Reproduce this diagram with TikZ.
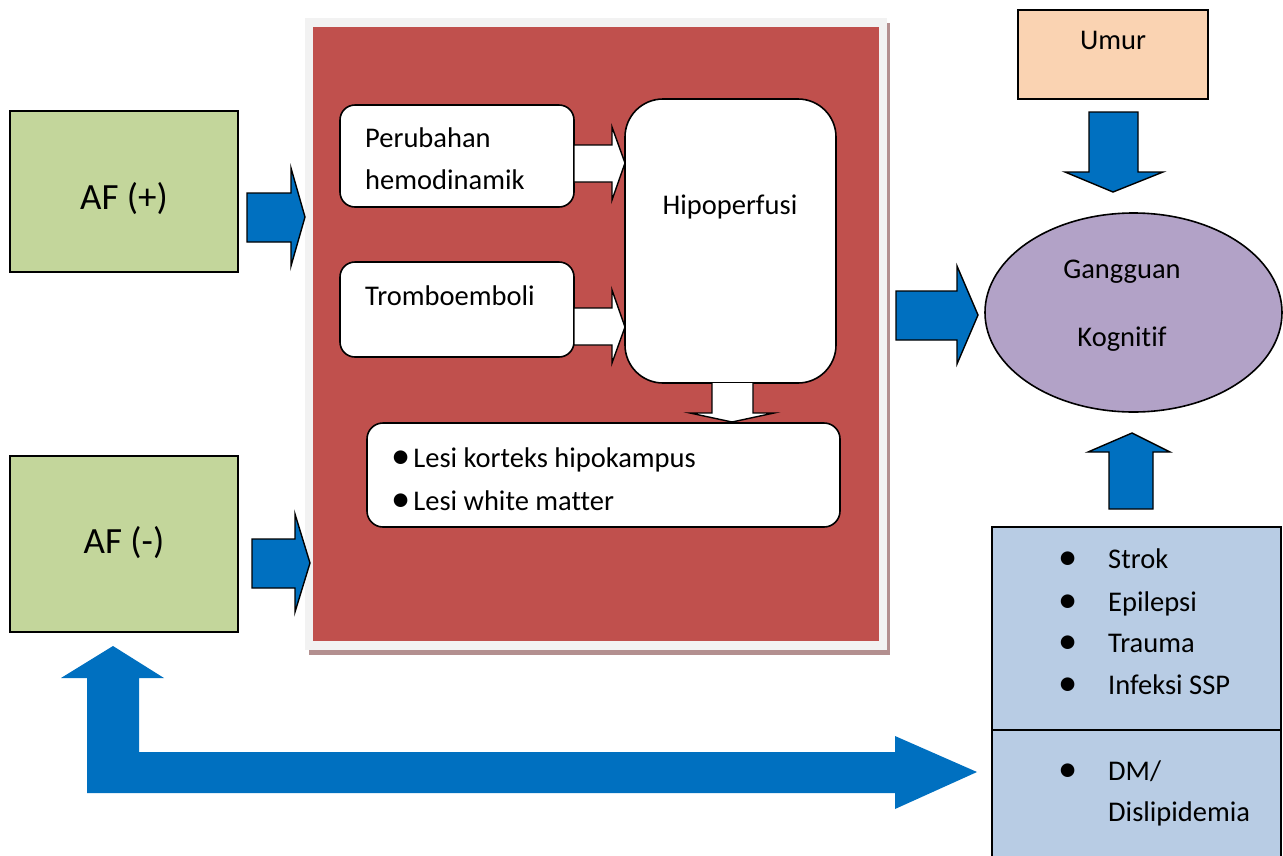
\documentclass[tikz,border=0pt]{standalone}
\usepackage{fontspec}
\setmainfont{Carlito}[Ligatures=NoCommon]
\usetikzlibrary{shapes.geometric}
\definecolor{panelred}{HTML}{C0504D}
\definecolor{panelframe}{HTML}{F2F2F2}
\definecolor{panelshadow}{HTML}{B38F8F}
\definecolor{afgreen}{HTML}{C3D69B}
\definecolor{agepeach}{HTML}{FAD3B2}
\definecolor{coglilac}{HTML}{B2A2C7}
\definecolor{riskblue}{HTML}{B8CCE4}
\definecolor{flowblue}{HTML}{0070C0}
\newcommand\txt{\fontsize{28.5}{34}\selectfont}
\newcommand\bigtxt{\fontsize{37}{44}\selectfont}
\newcommand\blt{\raisebox{-1.5pt}{\scalebox{1.35}{•}}}
\tikzset{
  roundbox/.style={draw=black, line width=1.6pt, fill=white, rounded corners=#1},
  label/.style={inner sep=0pt, anchor=base west, font=\txt},
  clabel/.style={inner sep=0pt, anchor=base, font=\txt},
  bluearrow/.style={fill=flowblue, draw=black, line width=1.4pt, line join=miter},
  whitearrow/.style={fill=white, draw=black, line width=1.4pt, line join=miter},
}
\begin{document}
\begin{tikzpicture}[x=1pt, y=-1pt]
\useasboundingbox (0,0) rectangle (1283,855);

% ---- central panel with its frame and shadow
\fill[panelshadow] (309,23) rectangle (890,655);
\fill[panelframe] (305,18) rectangle (887,650);
\fill[panelred] (313,27) rectangle (879,641);

% ---- AF boxes
\draw[line width=1.6pt, fill=afgreen] (10,111) rectangle (238,272);
\node[inner sep=0pt, anchor=base, font=\bigtxt] (afpos) at (124,209) {AF (+)};
\draw[line width=1.6pt, fill=afgreen] (10,456) rectangle (238,632);
\node[inner sep=0pt, anchor=base, font=\bigtxt] (afneg) at (124,553) {AF (-)};

% ---- arrows into the panel
\draw[bluearrow] (247,193) -- (291,193) -- (291,168) -- (305,217) -- (291,266) -- (291,242) -- (247,242) -- cycle;
\draw[bluearrow] (252,539) -- (295,539) -- (295,514) -- (310,563) -- (295,612) -- (295,588) -- (252,588) -- cycle;

% ---- boxes inside the panel
\draw[roundbox=15pt] (340,105) rectangle (574,207);
\node[label] (hemo1) at (365,147) {Perubahan};
\node[label] (hemo2) at (365,189) {hemodinamik};

\draw[roundbox=15pt] (340,262) rectangle (574,357);
\node[label] (trombo) at (365,305) {Tromboemboli};

\draw[roundbox=38pt] (625,99) rectangle (836,383);
\node[clabel] (hipo) at (730,214) {Hipoperfusi};

\draw[roundbox=16pt] (367,423) rectangle (840,527);
\node[label] (lesi1) at (391,467) {\blt\hspace{3pt}Lesi korteks hipokampus};
\node[label] (lesi2) at (391,510) {\blt\hspace{3pt}Lesi white matter};

% ---- white arrows inside the panel
\draw[whitearrow] (574,145) -- (612,145) -- (612,127) -- (625,163) -- (612,200) -- (612,182) -- (574,182) -- cycle;
\draw[whitearrow] (574,308) -- (612,308) -- (612,290) -- (625,327) -- (612,363) -- (612,345) -- (574,345) -- cycle;
\draw[whitearrow] (712,383) -- (712,413) -- (690,413) -- (732,422) -- (774,413) -- (753,413) -- (753,383);

% ---- age box and its arrow
\draw[line width=1.6pt, fill=agepeach] (1018,10) rectangle (1208,99);
\node[clabel] (umur) at (1113,49) {Umur};
\draw[bluearrow] (1089,112) -- (1138,112) -- (1138,172) -- (1163,172) -- (1113,192) -- (1065,172) -- (1089,172) -- cycle;

% ---- cognitive impairment
\node[ellipse, draw=black, line width=1.6pt, fill=coglilac, minimum width=297, minimum height=199] (cog) at (1133.5,312.5) {};
\node[clabel] (cog1) at (1122,278) {Gangguan};
\node[clabel] (cog2) at (1122,346) {Kognitif};
\draw[bluearrow] (896,291) -- (957,291) -- (957,266) -- (978,315) -- (957,364) -- (957,340) -- (896,340) -- cycle;

% ---- risk factor box
\draw[line width=1.6pt, fill=riskblue] (992,527) rectangle (1281,860);
\draw[line width=1.6pt] (992,730) -- (1281,730);
\node[label] (strok) at (1108,568) {Strok};
\node[label] (epi) at (1108,611) {Epilepsi};
\node[label] (trauma) at (1108,652) {Trauma};
\node[label] (infeksi) at (1108,694) {Infeksi SSP};
\node[label] (dm) at (1108,780) {DM/};
\node[label] (dis) at (1108,821) {Dislipidemia};
\foreach \y in {568,611,652,694,780}
  \node[inner sep=0pt, anchor=base, font=\txt] at (1068,\y) {\blt};
\draw[bluearrow] (1109,509) -- (1109,452) -- (1088,452) -- (1132,433) -- (1170,452) -- (1153,452) -- (1153,509) -- cycle;

% ---- two-way link between AF (-) and the risk factors
\fill[flowblue] (113,646) -- (164,678) -- (139,678) -- (139,752) -- (895,752) -- (895,736)
  -- (977,772) -- (895,809) -- (895,793) -- (87,793) -- (87,678) -- (61,678) -- cycle;
\end{tikzpicture}
\end{document}
